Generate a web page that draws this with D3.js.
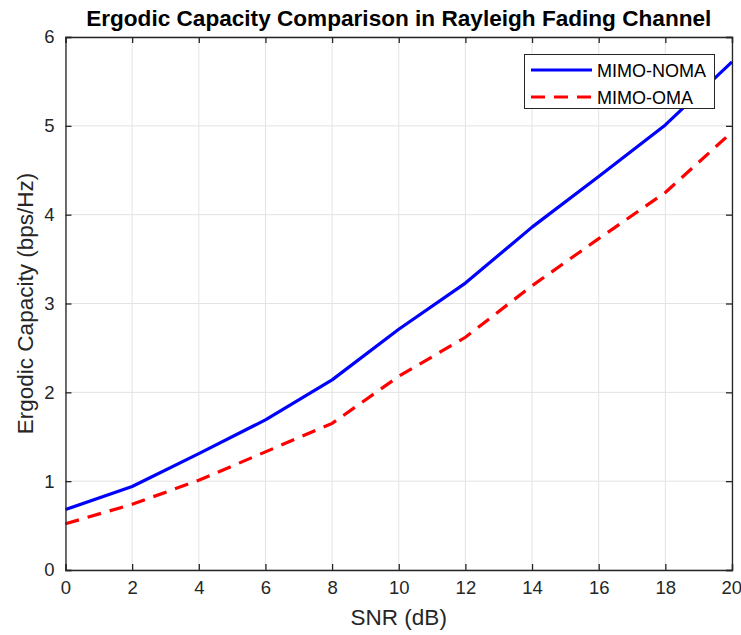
<!DOCTYPE html>
<html>
<head>
<meta charset="utf-8">
<script src="https://cdn.jsdelivr.net/npm/d3@7"></script>
<style>
  html, body { margin: 0; padding: 0; background: #fff; }
  svg { display: block; font-family: "Liberation Sans", Arial, Helvetica, sans-serif; }
</style>
</head>
<body>
<svg id="chart" width="741" height="635"></svg>
<script>
// SNR sweep (dB) and the two ergodic capacity curves (bps/Hz)
const snrDb = [0, 2, 4, 6, 8, 10, 12, 14, 16, 18, 20];
const capacityNoma = [0.68, 0.94, 1.31, 1.69, 2.14, 2.71, 3.23, 3.86, 4.43, 5.01, 5.72];
const capacityOma = [0.52, 0.74, 1.01, 1.33, 1.65, 2.18, 2.62, 3.20, 3.73, 4.25, 4.93];
const xTicks = [0, 2, 4, 6, 8, 10, 12, 14, 16, 18, 20];
const yTicks = [0, 1, 2, 3, 4, 5, 6];
const seriesNames = ["MIMO-NOMA", "MIMO-OMA"];

const svg = d3.select("#chart");
const box = { left: 65.5, right: 732, top: 37, bottom: 570 };
const axisColor = "#262626";

const x = d3.scaleLinear().domain([0, 20]).range([box.left, box.right]);
const y = d3.scaleLinear().domain([0, 6]).range([box.bottom, box.top]);

// grid
const grid = svg.append("g").attr("stroke", "#e3e3e3").attr("stroke-width", 1);
grid.selectAll(".gx").data(xTicks).join("line")
  .attr("x1", d => x(d)).attr("x2", d => x(d))
  .attr("y1", box.top).attr("y2", box.bottom);
grid.selectAll(".gy").data(yTicks).join("line")
  .attr("x1", box.left).attr("x2", box.right)
  .attr("y1", d => y(d)).attr("y2", d => y(d));

// curves
const line = d3.line().x((d, i) => x(snrDb[i])).y(d => y(d));
svg.append("path").datum(capacityNoma)
  .attr("fill", "none").attr("stroke", "#0000ff").attr("stroke-width", 3.2)
  .attr("stroke-linejoin", "round").attr("d", line);
svg.append("path").datum(capacityOma)
  .attr("fill", "none").attr("stroke", "#ff0000").attr("stroke-width", 3.2)
  .attr("stroke-dasharray", "14,9").attr("d", line);

// axes (inward ticks, boxed like MATLAB)
const tickLen = 6;
const fontTick = 18.5;
const xAxis = d3.axisBottom(x).tickValues(xTicks).tickSize(-tickLen).tickPadding(tickLen + 5).tickFormat(d3.format("d"));
const yAxis = d3.axisLeft(y).tickValues(yTicks).tickSize(-tickLen).tickPadding(tickLen + 5).tickFormat(d3.format("d"));
const xTop = d3.axisTop(x).tickValues(xTicks).tickSize(-tickLen).tickFormat("");
const yRight = d3.axisRight(y).tickValues(yTicks).tickSize(-tickLen).tickFormat("");

function styleAxis(g) {
  g.select(".domain").attr("stroke", axisColor).attr("stroke-width", 1.3);
  g.selectAll(".tick line").attr("stroke", axisColor).attr("stroke-width", 1.3);
  g.selectAll(".tick text").attr("fill", axisColor).attr("font-size", fontTick)
    .attr("font-family", "'Liberation Sans', Arial, sans-serif");
}
const gx = svg.append("g").attr("transform", `translate(0,${box.bottom})`).call(xAxis).call(styleAxis);
// keep the rightmost label inside the page edge
gx.selectAll(".tick text").filter(d => d === 20).attr("text-anchor", "end").attr("dx", 9.5);
svg.append("g").attr("transform", `translate(${box.left},0)`).call(yAxis).call(styleAxis);
svg.append("g").attr("transform", `translate(0,${box.top})`).call(xTop).call(styleAxis);
svg.append("g").attr("transform", `translate(${box.right},0)`).call(yRight).call(styleAxis);

// title and axis labels
svg.append("text").attr("x", (box.left + box.right) / 2).attr("y", 26)
  .attr("text-anchor", "middle").attr("font-size", 22.6).attr("font-weight", "bold")
  .attr("fill", "#000").text("Ergodic Capacity Comparison in Rayleigh Fading Channel");
svg.append("text").attr("x", (box.left + box.right) / 2).attr("y", 625)
  .attr("text-anchor", "middle").attr("font-size", 22.5).attr("fill", axisColor)
  .text("SNR (dB)");
svg.append("text")
  .attr("transform", `translate(33,${(box.top + box.bottom) / 2}) rotate(-90)`)
  .attr("text-anchor", "middle").attr("font-size", 22.5).attr("fill", axisColor)
  .text("Ergodic Capacity (bps/Hz)");

// legend
const lg = svg.append("g");
lg.append("rect").attr("x", 524.5).attr("y", 54.5).attr("width", 190).attr("height", 54)
  .attr("fill", "#fff").attr("stroke", axisColor).attr("stroke-width", 1);
const legendItems = [
  { name: seriesNames[0], color: "#0000ff", dash: null },
  { name: seriesNames[1], color: "#ff0000", dash: "14,9" }
];
legendItems.forEach((it, i) => {
  const cy = 70 + i * 27;
  lg.append("line").attr("x1", 531).attr("x2", 592).attr("y1", cy).attr("y2", cy)
    .attr("stroke", it.color).attr("stroke-width", 3.2)
    .attr("stroke-dasharray", it.dash);
  lg.append("text").attr("x", 597).attr("y", cy + 6.5).attr("font-size", 18)
    .attr("fill", "#000").text(it.name);
});
</script>
</body>
</html>
